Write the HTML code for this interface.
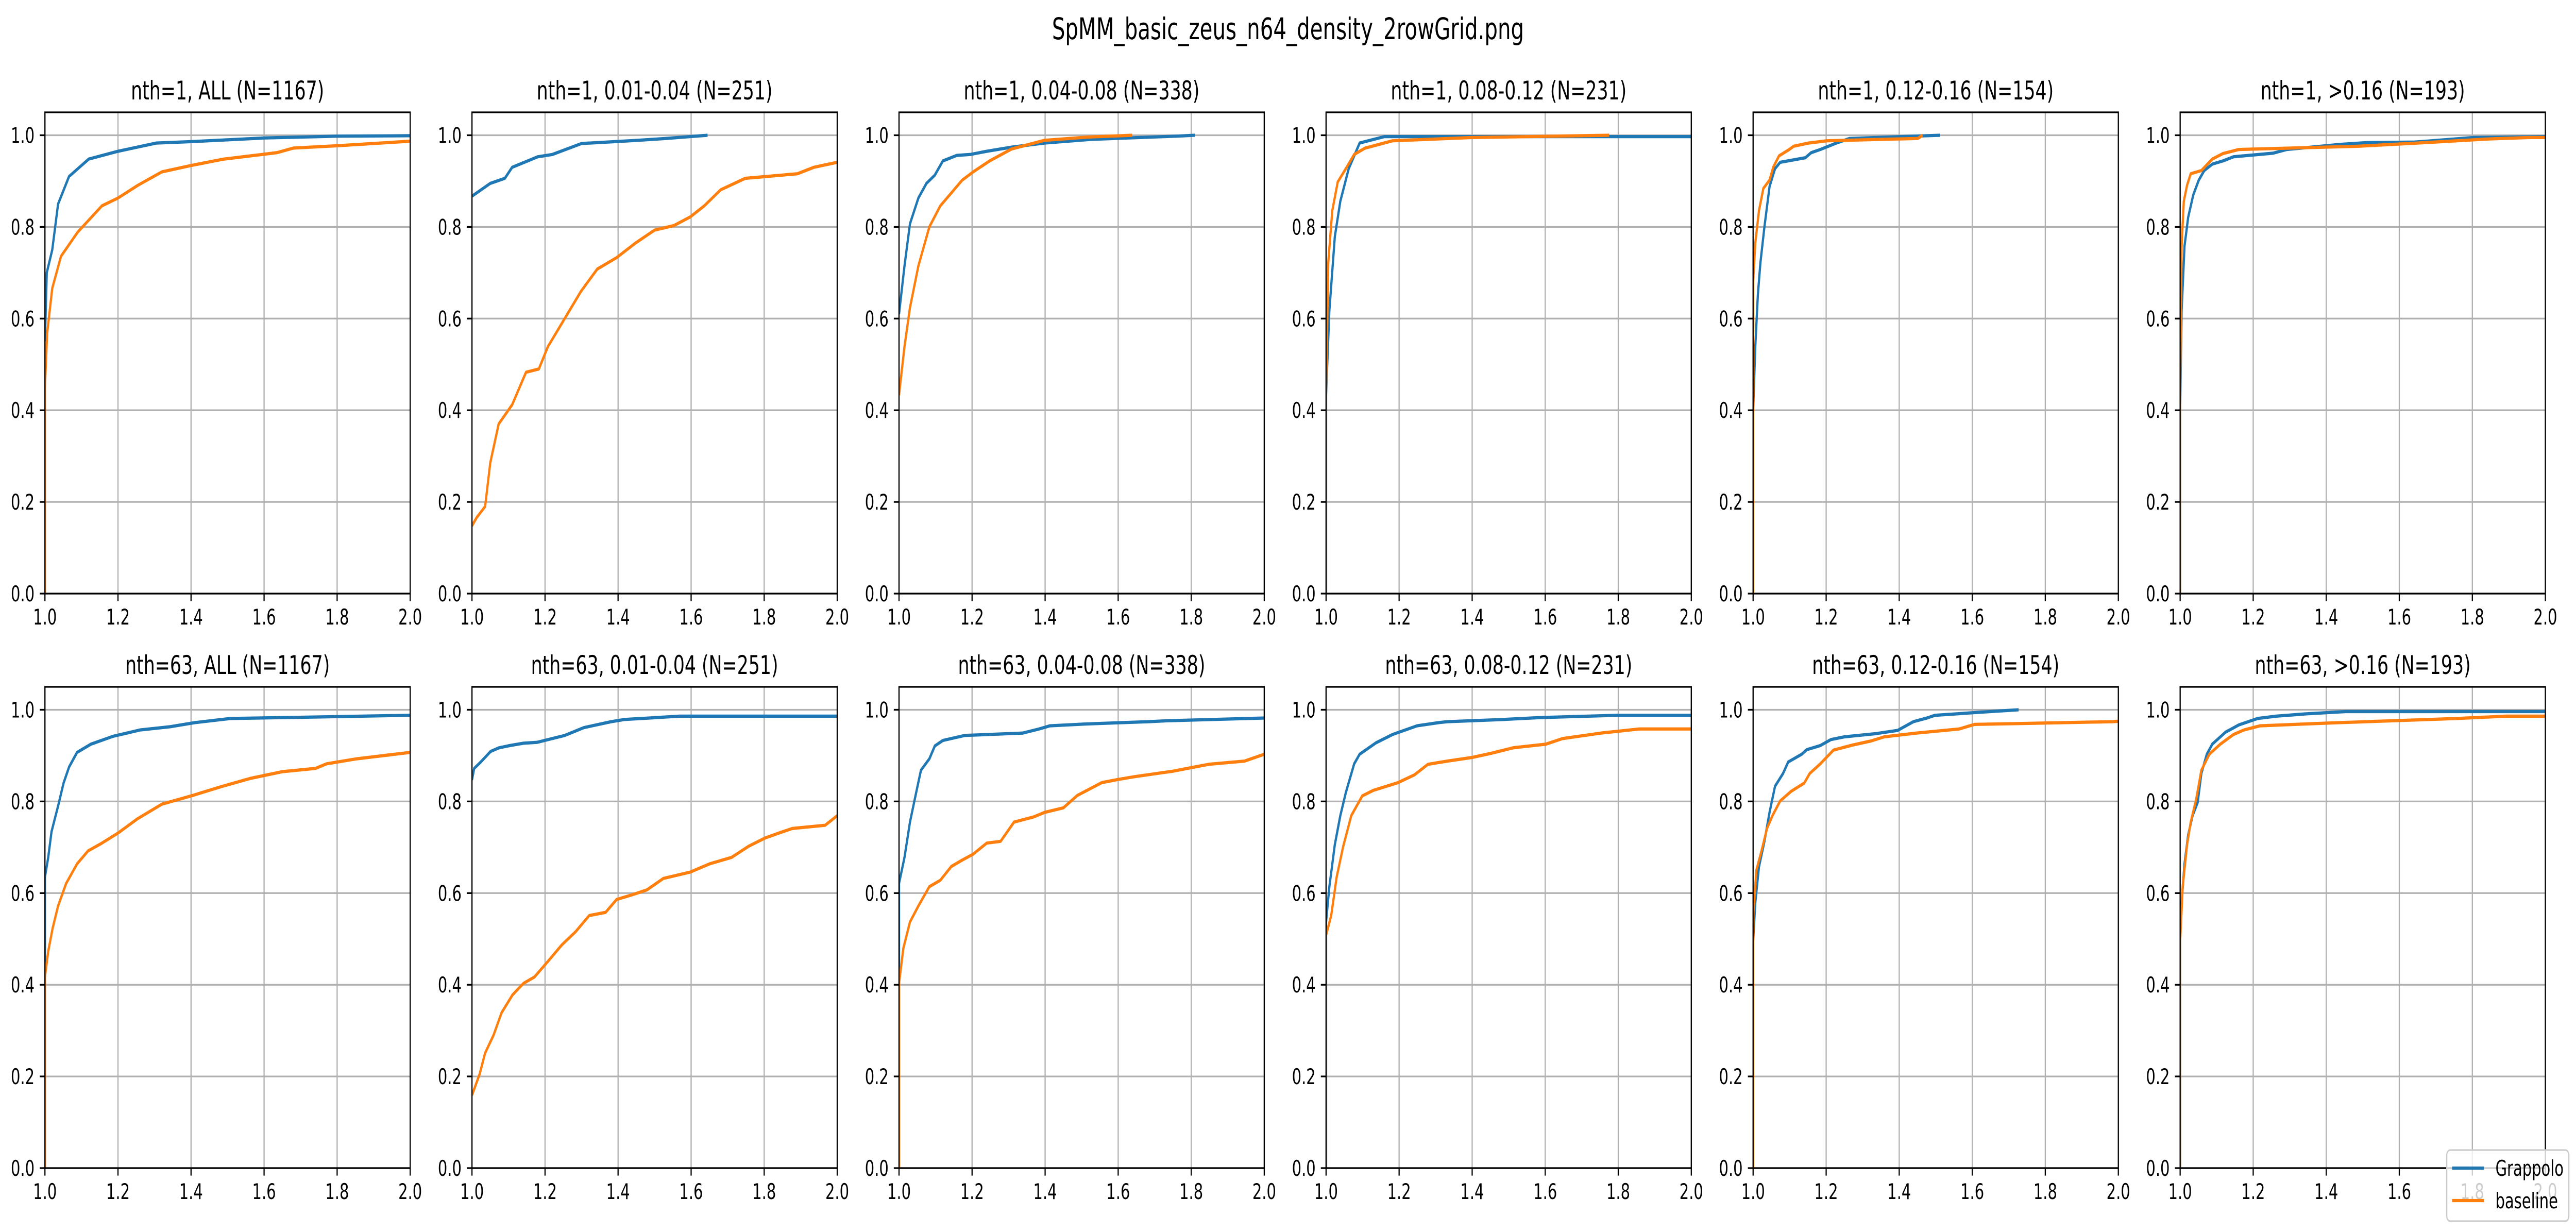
<!DOCTYPE html>
<html><head><meta charset="utf-8"><style>
html,body{margin:0;padding:0;background:#fff;width:100%;height:100%;overflow:hidden;}
svg{display:block;width:100vw;height:100vh;font-family:"DejaVu Sans","Liberation Sans",sans-serif;}
</style></head><body>
<svg id="fig" xmlns="http://www.w3.org/2000/svg" viewBox="0 0 7194 2391" preserveAspectRatio="none">
<rect width="7194" height="2391" fill="#fff"/>
<text x="3597" y="76" font-size="58" text-anchor="middle">SpMM_basic_zeus_n64_density_2rowGrid.png</text>
</svg>
<script>
const panelTitles = ["nth=1, ALL (N=1167)","nth=1, 0.01-0.04 (N=251)","nth=1, 0.04-0.08 (N=338)","nth=1, 0.08-0.12 (N=231)","nth=1, 0.12-0.16 (N=154)","nth=1, >0.16 (N=193)",
"nth=63, ALL (N=1167)","nth=63, 0.01-0.04 (N=251)","nth=63, 0.04-0.08 (N=338)","nth=63, 0.08-0.12 (N=231)","nth=63, 0.12-0.16 (N=154)","nth=63, >0.16 (N=193)"];
const xTicks = [1.0,1.2,1.4,1.6,1.8,2.0];
const xTickLabels = ["1.0","1.2","1.4","1.6","1.8","2.0"];
const yTicks = [0,0.2,0.4,0.6,0.8,1.0];
const yTickLabels = ["0.0","0.2","0.4","0.6","0.8","1.0"];
const seriesNames = ["Grappolo","baseline"];
// Grappolo x/y per panel
const gX = [
[1.0,1.005,1.02,1.036,1.066,1.12,1.2,1.305,1.4,1.6,1.8,2.0],
[1.0,1.05,1.09,1.11,1.18,1.22,1.3,1.456,1.53,1.645],
[1.0,1.015,1.03,1.053,1.075,1.098,1.12,1.158,1.195,1.24,1.308,1.398,1.525,1.758,1.81],
[1.0,1.0,1.009,1.024,1.039,1.062,1.092,1.16,2.0],
[1.0,1.0,1.006,1.013,1.02,1.031,1.045,1.06,1.074,1.143,1.159,1.184,1.228,1.264,1.512],
[1.0,1.0,1.004,1.012,1.022,1.036,1.051,1.066,1.088,1.117,1.146,1.255,1.292,1.438,1.511,1.642,1.803,2.0],
[1.0,1.0,1.009,1.018,1.036,1.051,1.066,1.088,1.126,1.186,1.261,1.343,1.411,1.508,1.726,2.0],
[1.0,1.006,1.024,1.051,1.074,1.104,1.141,1.179,1.254,1.306,1.381,1.419,1.486,1.569,2.0],
[1.0,1.0,1.015,1.03,1.045,1.06,1.083,1.098,1.12,1.18,1.338,1.383,1.413,1.51,1.683,1.736,2.0],
[1.0,1.0,1.009,1.024,1.039,1.054,1.077,1.092,1.137,1.182,1.249,1.309,1.332,1.489,1.587,1.797,2.0],
[1.0,1.0,1.006,1.016,1.031,1.045,1.06,1.082,1.096,1.133,1.147,1.184,1.213,1.25,1.337,1.396,1.439,1.476,1.498,1.63,1.727],
[1.0,1.0,1.004,1.012,1.022,1.034,1.048,1.058,1.073,1.088,1.124,1.161,1.212,1.263,1.343,1.453,2.0]];
const gY = [
[0.55,0.7,0.75,0.85,0.91,0.948,0.965,0.983,0.986,0.994,0.998,0.999],
[0.867,0.895,0.906,0.93,0.953,0.958,0.982,0.989,0.993,1.0],
[0.61,0.715,0.807,0.863,0.895,0.913,0.944,0.956,0.958,0.965,0.974,0.983,0.991,0.998,1.0],
[0,0.433,0.617,0.779,0.856,0.927,0.983,0.997,0.997],
[0,0.398,0.539,0.652,0.722,0.8,0.888,0.927,0.941,0.951,0.962,0.969,0.983,0.993,1.0],
[0,0.398,0.617,0.758,0.821,0.87,0.902,0.923,0.937,0.944,0.953,0.961,0.969,0.98,0.984,0.985,0.995,0.997],
[0,0.635,0.678,0.734,0.79,0.84,0.875,0.907,0.925,0.942,0.956,0.963,0.972,0.981,0.984,0.988],
[0.847,0.872,0.886,0.909,0.917,0.922,0.927,0.929,0.944,0.961,0.974,0.979,0.982,0.986,0.986],
[0,0.621,0.678,0.755,0.812,0.868,0.893,0.921,0.933,0.944,0.949,0.958,0.965,0.969,0.974,0.976,0.982],
[0,0.537,0.614,0.706,0.769,0.819,0.882,0.903,0.928,0.946,0.965,0.972,0.974,0.979,0.983,0.988,0.988],
[0,0.494,0.579,0.657,0.713,0.776,0.833,0.861,0.886,0.903,0.913,0.922,0.935,0.941,0.948,0.955,0.974,0.982,0.988,0.995,1.0],
[0,0.508,0.579,0.664,0.727,0.769,0.798,0.861,0.903,0.925,0.951,0.967,0.981,0.986,0.991,0.996,0.996]];
// baseline x/y per panel
const bX = [
[1.0,1.0,1.006,1.02,1.044,1.09,1.156,1.2,1.255,1.32,1.4,1.49,1.635,1.68,1.8,2.0],
[1.0,1.013,1.036,1.05,1.073,1.11,1.148,1.183,1.208,1.253,1.298,1.343,1.396,1.448,1.5,1.553,1.598,1.636,1.681,1.748,1.891,1.936,2.0],
[1.0,1.015,1.03,1.053,1.083,1.113,1.143,1.173,1.203,1.248,1.308,1.398,1.518,1.638],
[1.0,1.0,1.006,1.017,1.032,1.054,1.077,1.107,1.182,1.4,1.775],
[1.0,1.0,1.006,1.016,1.028,1.045,1.055,1.071,1.099,1.111,1.152,1.202,1.451,1.464],
[1.0,1.0,1.004,1.01,1.019,1.029,1.058,1.088,1.117,1.161,1.489,1.65,1.847,1.956,2.0],
[1.0,1.0,1.009,1.021,1.036,1.058,1.088,1.118,1.156,1.2,1.253,1.32,1.4,1.486,1.561,1.65,1.741,1.771,1.853,2.0],
[1.0,1.021,1.036,1.059,1.081,1.111,1.141,1.171,1.209,1.246,1.284,1.321,1.366,1.396,1.441,1.479,1.524,1.598,1.651,1.711,1.757,1.802,1.84,1.877,1.967,2.0],
[1.0,1.0,1.012,1.03,1.053,1.083,1.113,1.143,1.173,1.203,1.24,1.278,1.315,1.368,1.398,1.45,1.488,1.555,1.6,1.645,1.75,1.796,1.848,1.946,2.0],
[1.0,1.0,1.014,1.029,1.047,1.069,1.099,1.129,1.197,1.242,1.279,1.332,1.4,1.452,1.512,1.602,1.647,1.752,1.857,2.0],
[1.0,1.0,1.009,1.023,1.038,1.053,1.074,1.104,1.14,1.155,1.184,1.22,1.272,1.323,1.359,1.447,1.564,1.606,1.985,2.0],
[1.0,1.0,1.007,1.019,1.029,1.044,1.058,1.08,1.11,1.146,1.175,1.219,1.438,1.584,1.759,1.891,2.0]];
const bY = [
[0,0.45,0.567,0.666,0.736,0.789,0.846,0.863,0.891,0.92,0.934,0.948,0.962,0.972,0.977,0.987],
[0.148,0.166,0.19,0.285,0.37,0.412,0.483,0.49,0.539,0.599,0.659,0.708,0.733,0.765,0.793,0.803,0.822,0.846,0.881,0.906,0.916,0.93,0.941],
[0.433,0.539,0.624,0.715,0.8,0.846,0.874,0.902,0.92,0.944,0.97,0.989,0.996,1.0],
[0,0.44,0.722,0.835,0.898,0.927,0.958,0.972,0.988,0.995,1.0],
[0,0.68,0.765,0.835,0.884,0.902,0.93,0.955,0.969,0.976,0.983,0.988,0.993,1.0],
[0,0.44,0.758,0.856,0.891,0.916,0.923,0.948,0.96,0.969,0.976,0.983,0.992,0.995,0.995],
[0,0.417,0.473,0.523,0.572,0.621,0.664,0.692,0.709,0.731,0.762,0.794,0.812,0.833,0.85,0.865,0.872,0.882,0.893,0.907],
[0.159,0.205,0.251,0.29,0.339,0.378,0.403,0.417,0.452,0.487,0.516,0.551,0.558,0.586,0.597,0.607,0.632,0.646,0.664,0.678,0.702,0.72,0.731,0.741,0.748,0.769],
[0,0.403,0.48,0.537,0.572,0.614,0.628,0.658,0.672,0.685,0.709,0.713,0.755,0.766,0.776,0.786,0.813,0.841,0.848,0.854,0.866,0.873,0.881,0.888,0.903],
[0,0.508,0.551,0.635,0.702,0.769,0.812,0.824,0.841,0.858,0.881,0.888,0.896,0.905,0.917,0.925,0.937,0.949,0.958,0.958],
[0,0.551,0.65,0.692,0.741,0.769,0.801,0.822,0.84,0.861,0.882,0.912,0.923,0.932,0.941,0.949,0.958,0.968,0.974,0.975],
[0,0.494,0.614,0.706,0.755,0.805,0.868,0.903,0.925,0.946,0.956,0.965,0.972,0.976,0.981,0.986,0.986]];

const NS="http://www.w3.org/2000/svg";
const svg=document.getElementById('fig');
const colors=["#1f77b4","#ff7f0e"];
const L0=125.5, STEP=1192.6, W=1020;
const rowTop=[218,1333], H=934;
function mk(tag,attrs,parent){const e=document.createElementNS(NS,tag);for(const k in attrs)e.setAttribute(k,attrs[k]);(parent||svg).appendChild(e);return e;}
const defs=mk('defs',{});
for(let p=0;p<12;p++){
  const col=p%6,row=Math.floor(p/6);
  const left=L0+col*STEP, top=rowTop[row], bottom=top+H;
  const sx=v=>left+(v-1.0)/1.0*W;
  const sy=v=>bottom-(v/1.05)*H;
  const g=mk('g',{});
  
  
  const cp=mk('clipPath',{id:'c'+p},defs);
  mk('rect',{x:left,y:top,width:W,height:H},cp);
  xTicks.forEach((t,i)=>{const l=mk('line',{x1:sx(t),x2:sx(t),y1:top,y2:bottom,stroke:'#b0b0b0','stroke-width':3.3},g);
    });
  yTicks.forEach((t,i)=>{const l=mk('line',{x1:left,x2:left+W,y1:sy(t),y2:sy(t),stroke:'#b0b0b0','stroke-width':3.3},g);
    });
  [[gX[p],gY[p]],[bX[p],bY[p]]].forEach((s,si)=>{
    const pts=s[0].map((x,i)=>sx(x).toFixed(1)+','+sy(s[1][i]).toFixed(1)).join(' ');
    const pl=mk('polyline',{points:pts,fill:'none',stroke:colors[si],'stroke-width':6.25,'stroke-linejoin':'round','clip-path':'url(#c'+p+')'},g);
    
    
  });
  const fr=mk('rect',{x:left,y:top,width:W,height:H,fill:'none',stroke:'#000','stroke-width':3.3},g);
  
  xTicks.forEach((t,i)=>{
    mk('line',{x1:sx(t),x2:sx(t),y1:bottom,y2:bottom+14.6,stroke:'#000','stroke-width':3.3},g);
    const tx=mk('text',{x:sx(t),y:bottom+60,'font-size':41.7,'text-anchor':'middle'},g);
    tx.textContent=xTickLabels[i];
    
  });
  yTicks.forEach((t,i)=>{
    mk('line',{x1:left-14.6,x2:left,y1:sy(t),y2:sy(t),stroke:'#000','stroke-width':3.3},g);
    const tx=mk('text',{x:left-29,y:sy(t)+15,'font-size':41.7,'text-anchor':'end'},g);
    tx.textContent=yTickLabels[i];
    
  });
  const tt=mk('text',{x:left+W/2,y:top-25,'font-size':50,'text-anchor':'middle'},g);
  tt.textContent=panelTitles[p];
  
}
const lg=mk('g',{});


mk('rect',{x:6833,y:2232,width:341,height:138,rx:10,fill:'#fff','fill-opacity':0.8,stroke:'#cccccc','stroke-width':3.3},lg);
[[2267,0],[2330,1]].forEach(([y,i])=>{
  const e=mk('g',{},lg);
  
  
  mk('line',{x1:6848,x2:6937,y1:y,y2:y,stroke:colors[i],'stroke-width':6.25},e);
  const t=mk('text',{x:6969,y:y+15,'font-size':41.7},e);
  t.textContent=seriesNames[i];
});
</script>
</body></html>
